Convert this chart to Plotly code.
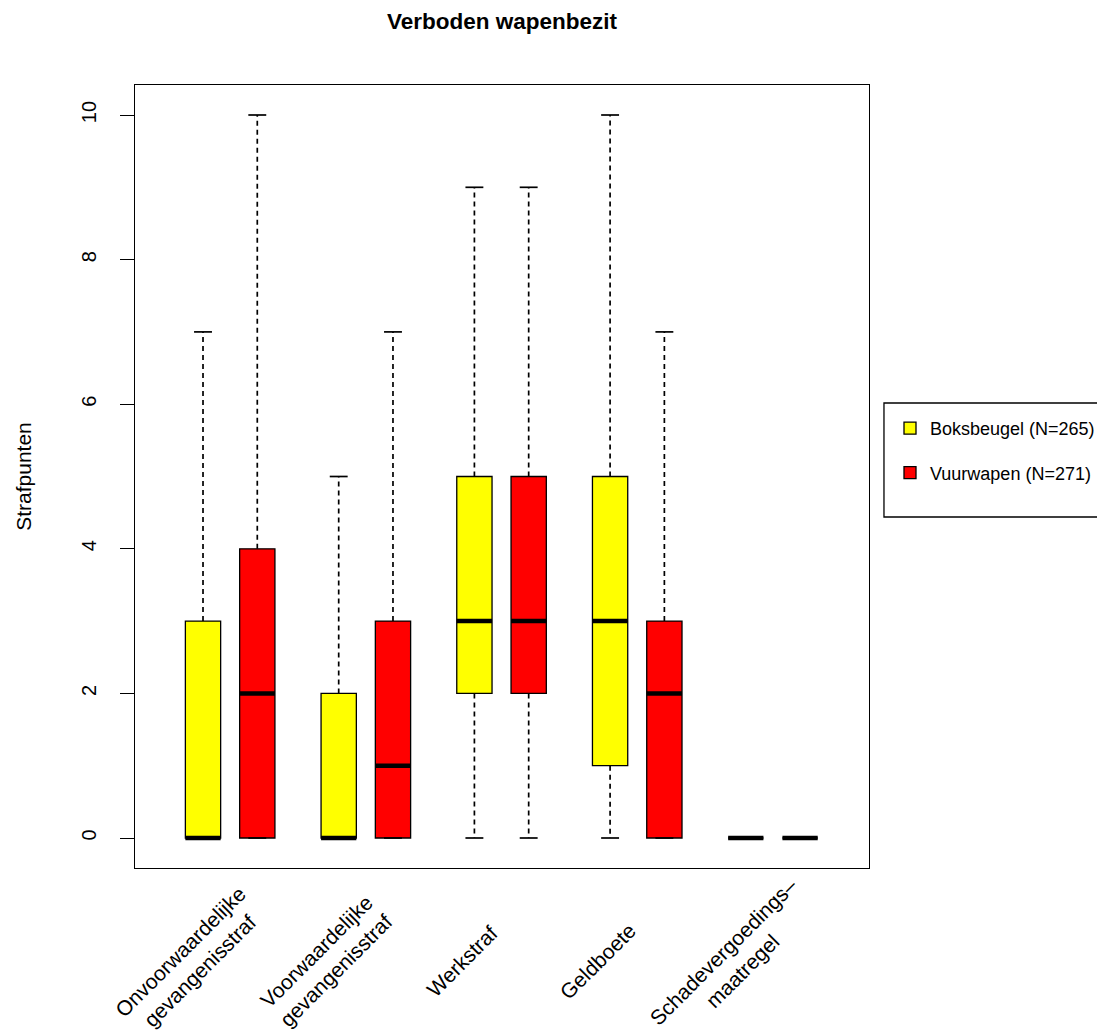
import plotly.graph_objects as go

# ---- data ----
categories = ["Onvoorwaardelijke<br>gevangenisstraf", "Voorwaardelijke<br>gevangenisstraf",
              "Werkstraf", "Geldboete", "Schadevergoedings–<br>maatregel"]
series_names = ["Boksbeugel (N=265)", "Vuurwapen (N=271)"]
series_colors = ["#FFFF00", "#FF0000"]

# five-number summaries per category: min, q1, median, q3, max
boks_min = [0, 0, 0, 0, 0]
boks_q1 = [0, 0, 2, 1, 0]
boks_med = [0, 0, 3, 3, 0]
boks_q3 = [3, 2, 5, 5, 0]
boks_max = [7, 5, 9, 10, 0]

vuur_min = [0, 0, 0, 0, 0]
vuur_q1 = [0, 0, 2, 0, 0]
vuur_med = [2, 1, 3, 2, 0]
vuur_q3 = [4, 3, 5, 3, 0]
vuur_max = [10, 7, 9, 7, 0]

y_ticks = [0, 2, 4, 6, 8, 10]

# ---- layout helpers ----
positions = [[1, 3.5, 6, 8.5, 11], [2, 4.5, 7, 9.5, 12]]
group_centers = [(a + b) / 2 for a, b in zip(positions[0], positions[1])]
BOXW = 0.65
CAPW = 0.33

stats = [
    (boks_min, boks_q1, boks_med, boks_q3, boks_max),
    (vuur_min, vuur_q1, vuur_med, vuur_q3, vuur_max),
]

FONT = "Liberation Sans, Arial, sans-serif"
W, H = 1097, 1026
fig = go.Figure()

# dashed whiskers
for s in range(2):
    mn, q1, md, q3, mx = stats[s]
    wx, wy = [], []
    for i, x in enumerate(positions[s]):
        wx += [x, x, None, x, x, None]
        wy += [q3[i], mx[i], None, q1[i], mn[i], None]
    fig.add_trace(go.Scatter(x=wx, y=wy, mode="lines", showlegend=False, hoverinfo="skip",
                             line=dict(color="black", width=1.7, dash="5px,4px")))

# boxes
for s in range(2):
    mn, q1, md, q3, mx = stats[s]
    fig.add_trace(go.Box(
        x=positions[s], q1=q1, median=md, q3=q3, lowerfence=q1, upperfence=q3,
        width=BOXW, fillcolor=series_colors[s], name=series_names[s],
        line=dict(color="black", width=1.3), whiskerwidth=0,
        legendgroup=series_names[s], hoverinfo="skip",
    ))

# medians and staples
for s in range(2):
    mn, q1, md, q3, mx = stats[s]
    mx_, my_, cx_, cy_ = [], [], [], []
    for i, x in enumerate(positions[s]):
        mx_ += [x - BOXW / 2, x + BOXW / 2, None]
        my_ += [md[i], md[i], None]
        cx_ += [x - CAPW / 2, x + CAPW / 2, None, x - CAPW / 2, x + CAPW / 2, None]
        cy_ += [mx[i], mx[i], None, mn[i], mn[i], None]
    fig.add_trace(go.Scatter(x=cx_, y=cy_, mode="lines", showlegend=False, hoverinfo="skip",
                             line=dict(color="black", width=1.7)))
    fig.add_trace(go.Scatter(x=mx_, y=my_, mode="lines", showlegend=False, hoverinfo="skip",
                             line=dict(color="black", width=4.5)))

# category labels (rotated)
for gc, lab in zip(group_centers, categories):
    fig.add_annotation(x=gc, xref="x", y=-0.1188, yref="paper", text=lab, showarrow=False,
                       textangle=-45, xanchor="center", yanchor="middle", align="center",
                       xshift=-40, font=dict(family=FONT, size=21, color="black"))

# legend frame
fig.add_shape(type="rect", xref="paper", yref="paper", x0=1.0204, x1=1.3175, y0=0.4483, y1=0.5939,
              line=dict(color="black", width=1.3), fillcolor="rgba(0,0,0,0)")

fig.update_layout(
    width=W, height=H,
    margin=dict(l=127, r=236, t=77, b=166),
    paper_bgcolor="white", plot_bgcolor="white",
    font=dict(family=FONT, size=20, color="black"),
    title=dict(text="<b>Verboden wapenbezit</b>", x=0.5, xref="paper", y=1 - 13 / H,
               yref="container", yanchor="middle", xanchor="center",
               font=dict(family=FONT, size=22.5, color="black")),
    showlegend=True,
    legend=dict(xref="container", yref="container", x=882 / W, xanchor="left",
                y=1 - 402 / H, yanchor="top", bgcolor="rgba(0,0,0,0)",
                borderwidth=0, font=dict(family=FONT, size=18, color="black"),
                traceorder="grouped", tracegroupgap=18),
    boxmode="overlay",
)
fig.update_xaxes(range=[-0.253, 13.27], showgrid=False, zeroline=False, showline=True, mirror=True,
                 linecolor="black", linewidth=1.3, tickvals=[], ticks="")
fig.update_yaxes(range=[-0.415, 10.415], showgrid=False, zeroline=False, showline=True, mirror=True,
                 linecolor="black", linewidth=1.3, tickvals=y_ticks, ticks="outside", ticklen=14,
                 tickwidth=1.3, tickcolor="black", tickangle=-90, ticklabelstandoff=16,
                 tickfont=dict(family=FONT, size=20),
                 title=dict(text="Strafpunten", font=dict(family=FONT, size=21), standoff=40))

fig.write_html("out.html")
